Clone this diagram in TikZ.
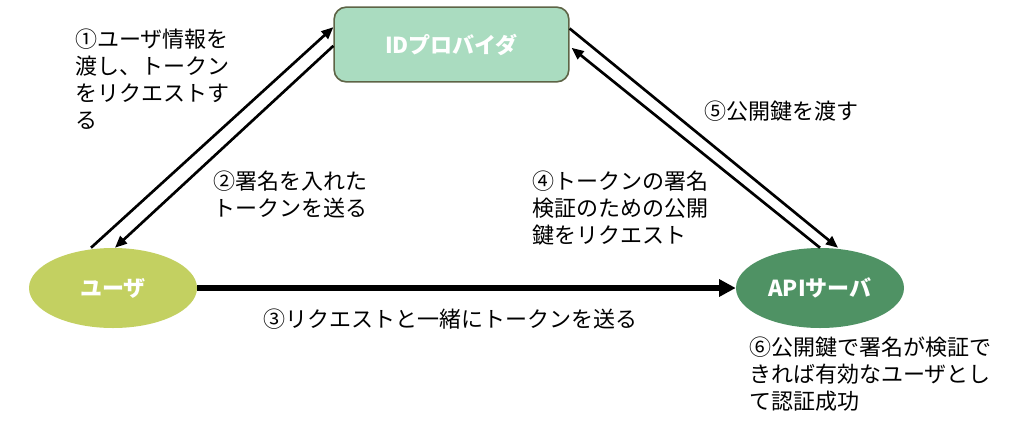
\documentclass[tikz,border=0pt]{standalone}
\usepackage{fontspec}
\setmainfont{Noto Sans CJK JP}
\usepackage{tikz}
\usetikzlibrary{shapes.geometric,arrows.meta}
\definecolor{idfill}{HTML}{AADCC0}
\definecolor{idline}{HTML}{5E6446}
\definecolor{userfill}{HTML}{C3D061}
\definecolor{apifill}{HTML}{4F9264}
\tikzset{
   jp/.style={font=\fontsize{16.5}{20.25}\selectfont},
   party/.style={ellipse, inner sep=0pt, minimum width=126pt, minimum height=60pt,
                 text=white, font=\bfseries\fontsize{16.5}{20.25}\selectfont},
   provider/.style={draw=idline, fill=idfill, line width=1.2pt, rounded corners=9pt,
                 minimum width=176pt, minimum height=56pt,
                 text=white, font=\bfseries\fontsize{16.5}{20.25}\selectfont},
   note/.style={jp, anchor=north west, inner sep=0pt, align=left},
   msg/.style={-{Triangle[length=9pt,width=7.5pt]}, line width=2pt},
   bigmsg/.style={-{Triangle[length=12.5pt,width=12.5pt]}, line width=4.5pt}
}
\begin{document}
\begin{tikzpicture}[x=0.75pt,y=-0.75pt]
\useasboundingbox (0,0) rectangle (1024,436);
\node[provider] (idp) at (451.5,44.5) {IDプロバイダ};
\node[party, fill=userfill] (user) at (113,288) {ユーザ};
\node[party, fill=apifill] (api) at (820,288) {APIサーバ};
% user <-> ID provider
\draw[msg] ([xshift=-16.5pt]user.north) -- ([yshift=13pt]idp.west);
\draw[msg] ([yshift=-1pt]idp.west) -- ([xshift=1.5pt]user.north);
% ID provider <-> API server
\draw[msg] ([yshift=12pt]idp.east) -- ([xshift=13.5pt]api.north);
\draw[msg] (api.north) -- ([xshift=1.5pt,yshift=-2.5pt]idp.east);
\draw[bigmsg] (user.east) -- (api.west);
\node[note] (n1) at (75,29) {①ユーザ情報を\\渡し、トークン\\をリクエストす\\る};
\node[note] (n2) at (213,171) {②署名を入れた\\トークンを送る};
\node[note] (n3) at (263,309) {③リクエストと一緒にトークンを送る};
\node[note] (n4) at (532,171) {④トークンの署名\\検証のための公開\\鍵をリクエスト};
\node[note] (n5) at (704,101) {⑤公開鍵を渡す};
\node[note] (n6) at (749,337) {⑥公開鍵で署名が検証で\\きれば有効なユーザとし\\て認証成功};
\end{tikzpicture}
\end{document}
